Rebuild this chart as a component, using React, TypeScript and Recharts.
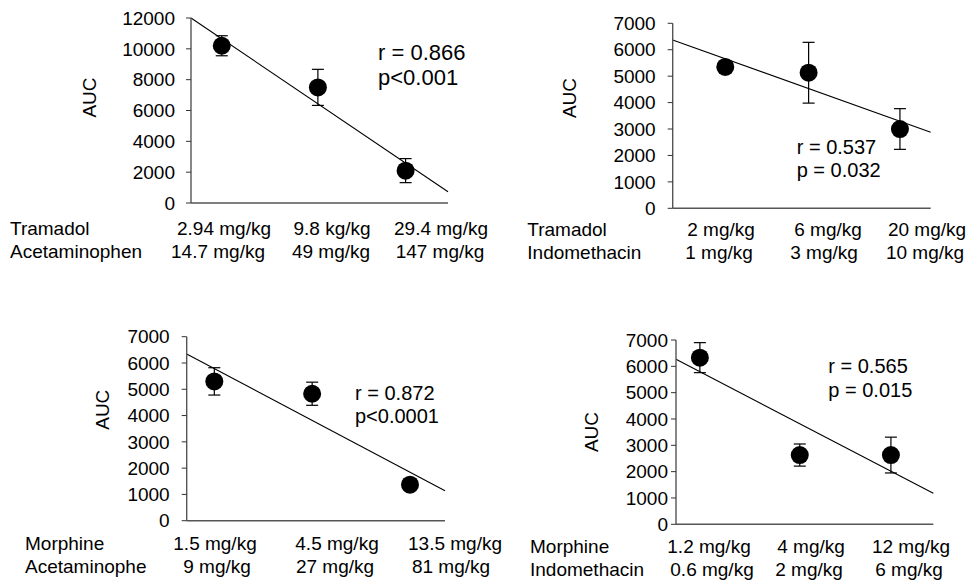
import React from 'react';
import {
  ComposedChart,
  Scatter,
  ErrorBar,
  XAxis,
  YAxis,
  ReferenceLine,
} from 'recharts';

// Tramadol + Acetaminophen
const taDose = [2.94, 9.8, 29.4];
const taAUC = [10200, 7500, 2100];
const taErr = [650, 1170, 780];
const taFit = [12000, 730];
const taRow1 = ['2.94 mg/kg', '9.8 kg/kg', '29.4 mg/kg'];
const taRow2 = ['14.7 mg/kg', '49 mg/kg', '147 mg/kg'];

// Tramadol + Indomethacin
const tiDose = [2, 6, 20];
const tiAUC = [5350, 5130, 3000];
const tiErr = [200, 1150, 770];
const tiFit = [6370, 2880];
const tiRow1 = ['2 mg/kg', '6 mg/kg', '20 mg/kg'];
const tiRow2 = ['1 mg/kg', '3 mg/kg', '10 mg/kg'];

// Morphine + Acetaminophen
const maDose = [1.5, 4.5, 13.5];
const maAUC = [5300, 4830, 1370];
const maErr = [520, 440, 100];
const maFit = [6340, 1140];
const maRow1 = ['1.5 mg/kg', '4.5 mg/kg', '13.5 mg/kg'];
const maRow2 = ['9 mg/kg', '27 mg/kg', '81 mg/kg'];

// Morphine + Indomethacin
const miDose = [1.2, 4, 12];
const miAUC = [6330, 2630, 2630];
const miErr = [570, 420, 680];
const miFit = [6270, 1180];
const miRow1 = ['1.2 mg/kg', '4 mg/kg', '12 mg/kg'];
const miRow2 = ['0.6 mg/kg', '2 mg/kg', '6 mg/kg'];

const yTicks12k = [0, 2000, 4000, 6000, 8000, 10000, 12000];
const yTicks7k = [0, 1000, 2000, 3000, 4000, 5000, 6000, 7000];
const logTicksTA = [2, 3, 4, 5, 6, 7, 8, 9, 10, 20, 30, 40, 50];
const logTicksTI = [2, 20];

const W = 969;
const H = 581;
const FONT = '"Liberation Sans", Arial, sans-serif';
const AXIS = '#555';

const toRows = (dose: number[], auc: number[], err: number[]) =>
  dose.map((d, i) => ({ x: d, y: auc[i], err: err[i] }));

const Dot = (props: any) => <circle cx={props.cx} cy={props.cy} r={9} fill="#000" />;

interface PanelProps {
  plot: [number, number, number, number]; // x0, y0, x1, y1
  dose: number[];
  auc: number[];
  err: number[];
  fit: number[];
  xDomain: [number, number];
  xTicks?: number[];
  yMax: number;
  yTicks: number[];
  yTickMargin: number;
}

const Panel = ({ plot, dose, auc, err, fit, xDomain, xTicks, yMax, yTicks, yTickMargin }: PanelProps) => {
  const [x0, y0, x1, y1] = plot;
  const yw = 60;
  const xh = 30;
  return (
    <div style={{ position: 'absolute', left: 0, top: 0 }}>
      <ComposedChart
        width={W}
        height={H}
        data={toRows(dose, auc, err)}
        margin={{ top: y0, left: x0 - yw, right: W - x1, bottom: H - y1 - xh }}
      >
        <XAxis
          dataKey="x"
          type="number"
          scale="log"
          domain={xDomain}
          ticks={xTicks || []}
          interval={0}
          allowDataOverflow
          height={xh}
          tick={false}
          tickLine={xTicks ? { stroke: '#333' } : false}
          tickSize={5}
          axisLine={{ stroke: AXIS, strokeWidth: 1.4 }}
        />
        <YAxis
          dataKey="y"
          type="number"
          domain={[0, yMax]}
          ticks={yTicks}
          interval={0}
          width={yw}
          tickSize={5}
          tickMargin={yTickMargin}
          tickLine={{ stroke: '#333' }}
          axisLine={{ stroke: AXIS, strokeWidth: 1.4 }}
          tick={{ fill: '#000', fontSize: 19, fontFamily: FONT }}
        />
        <ReferenceLine
          segment={[
            { x: xDomain[0], y: fit[0] },
            { x: xDomain[1], y: fit[1] },
          ]}
          stroke="#000"
          strokeWidth={1.1}
          ifOverflow="visible"
        />
        <Scatter dataKey="y" shape={Dot} isAnimationActive={false}>
          <ErrorBar dataKey="err" direction="y" width={6} stroke="#000" strokeWidth={1.2} />
        </Scatter>
      </ComposedChart>
    </div>
  );
};

const DoseLabels = ({ name1, name2, nameX, row1, row2, cx1, cx2, b1, b2 }: any) => (
  <g>
    <text x={nameX} y={b1}>{name1}</text>
    <text x={nameX} y={b2}>{name2}</text>
    {row1.map((t: string, i: number) => (
      <text key={'a' + i} x={cx1[i]} y={b1} textAnchor="middle">{t}</text>
    ))}
    {row2.map((t: string, i: number) => (
      <text key={'b' + i} x={cx2[i]} y={b2} textAnchor="middle">{t}</text>
    ))}
  </g>
);

const AUCLabel = ({ x, y }: { x: number; y: number }) => (
  <text x={x} y={y} transform={`rotate(-90 ${x} ${y})`} textAnchor="middle" dominantBaseline="central">
    AUC
  </text>
);

export default function App() {
  return (
    <div style={{ position: 'absolute', left: 0, top: 0, width: W, height: H, background: '#fff', fontFamily: FONT }}>
      <Panel plot={[191, 18, 448, 203]} dose={taDose} auc={taAUC} err={taErr} fit={taFit}
        xDomain={[2, 50]} xTicks={logTicksTA} yMax={12000} yTicks={yTicks12k} yTickMargin={11} />
      <Panel plot={[672.7, 23.3, 930.7, 208.3]} dose={tiDose} auc={tiAUC} err={tiErr} fit={tiFit}
        xDomain={[1, 30]} xTicks={logTicksTI} yMax={7000} yTicks={yTicks7k} yTickMargin={12} />
      <Panel plot={[186.7, 336.7, 445, 520.7]} dose={maDose} auc={maAUC} err={maErr} fit={maFit}
        xDomain={[1.1, 20]} yMax={7000} yTicks={yTicks7k} yTickMargin={12} />
      <Panel plot={[676, 340, 933.3, 524.3]} dose={miDose} auc={miAUC} err={miErr} fit={miFit}
        xDomain={[0.9, 20]} yMax={7000} yTicks={yTicks7k} yTickMargin={3} />

      <svg width={W} height={H} style={{ position: 'absolute', left: 0, top: 0, pointerEvents: 'none' }}
        fontFamily={FONT} fontSize={19} fill="#000">
        <AUCLabel x={89} y={97.5} />
        <AUCLabel x={569} y={98} />
        <AUCLabel x={102.7} y={409.7} />
        <AUCLabel x={591} y={432} />

        <DoseLabels name1="Tramadol" name2="Acetaminophen" nameX={10} row1={taRow1} row2={taRow2}
          cx1={[224, 332, 441]} cx2={[218, 331, 440]} b1={235} b2={257.5} />
        <DoseLabels name1="Tramadol" name2="Indomethacin" nameX={527.3} row1={tiRow1} row2={tiRow2}
          cx1={[721, 828, 927]} cx2={[719, 824, 925]} b1={235.5} b2={258.5} />
        <DoseLabels name1="Morphine" name2="Acetaminophe" nameX={25} row1={maRow1} row2={maRow2}
          cx1={[215, 337, 455]} cx2={[217, 335, 451]} b1={550} b2={572.7} />
        <DoseLabels name1="Morphine" name2="Indomethacin" nameX={530} row1={miRow1} row2={miRow2}
          cx1={[709, 811, 911]} cx2={[712, 809, 909]} b1={553.3} b2={576} />

        <text x={378} y={60} fontSize={22}>r = 0.866</text>
        <text x={378} y={85} fontSize={22}>p&lt;0.001</text>
        <text x={796.7} y={154} fontSize={20}>r = 0.537</text>
        <text x={796.7} y={176.7} fontSize={20}>p = 0.032</text>
        <text x={355} y={400} fontSize={20}>r = 0.872</text>
        <text x={355} y={422.7} fontSize={20}>p&lt;0.0001</text>
        <text x={828.3} y={373.3} fontSize={20}>r = 0.565</text>
        <text x={828.3} y={396.7} fontSize={20}>p = 0.015</text>
      </svg>
    </div>
  );
}
